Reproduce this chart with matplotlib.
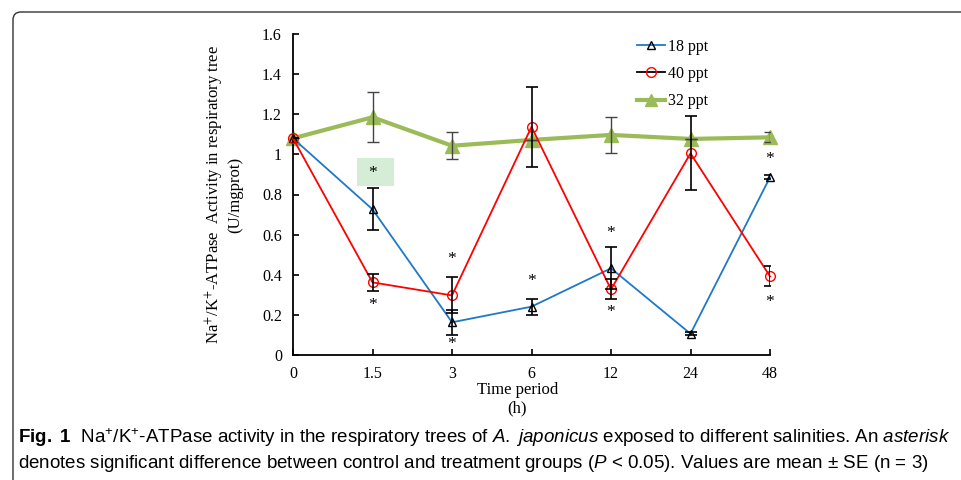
import matplotlib
matplotlib.use('Agg')
import matplotlib.pyplot as plt
from matplotlib.patches import FancyBboxPatch, Rectangle
from matplotlib.lines import Line2D
import numpy as np

plt.rcParams['font.family'] = ['Liberation Serif', 'DejaVu Serif']
plt.rcParams['mathtext.fontset'] = 'custom'
plt.rcParams['mathtext.rm'] = 'Liberation Sans'
plt.rcParams['mathtext.it'] = 'Liberation Sans:italic'
plt.rcParams['mathtext.bf'] = 'Liberation Sans:bold'

# time points (categorical axis)
times = ['0', '1.5', '3', '6', '12', '24', '48']

# 18 ppt
low_mean = [1.08, 0.726, 0.163, 0.241, 0.432, 0.106, 0.886]
low_se = [0.0, 0.105, 0.063, 0.04, 0.105, 0.008, 0.01]
# 40 ppt
high_mean = [1.08, 0.362, 0.297, 1.137, 0.327, 1.005, 0.392]
high_se = [0.0, 0.042, 0.09, 0.2, 0.05, 0.185, 0.05]
# 32 ppt (control)
ctrl_mean = [1.08, 1.185, 1.043, 1.072, 1.097, 1.077, 1.085]
ctrl_se = [0.0, 0.125, 0.068, 0.0, 0.088, 0.0, 0.025]

# significance asterisks (time index, height)
star_x = [1, 1, 2, 2, 3, 4, 4, 6, 6]
star_y = [0.905, 0.25, 0.48, 0.055, 0.368, 0.61, 0.213, 0.975, 0.265]

yticks = [0, 0.2, 0.4, 0.6, 0.8, 1, 1.2, 1.4, 1.6]
yticklabels = ['0', '0.2', '0.4', '0.6', '0.8', '1', '1.2', '1.4', '1.6']

x = np.arange(len(times))

fig = plt.figure(figsize=(9.61, 4.8), dpi=100)

# rounded frame around figure
frame = FancyBboxPatch((0.13, -1.0), 11.0, 4.8 - 0.12 + 1.0,
                       boxstyle='round,pad=0,rounding_size=0.08',
                       transform=fig.dpi_scale_trans, fill=False,
                       edgecolor='#333333', linewidth=1.0)
fig.patches.append(frame)

ax = fig.add_axes([293 / 961, 125 / 480, 477 / 961, 321 / 480])
ax.set_xlim(0, 6)
ax.set_ylim(0, 1.6)

# highlight box behind first asterisk
ax.add_patch(Rectangle((0.81, 0.842), 0.46, 0.14, facecolor='#d4edd4',
                       edgecolor='none', zorder=1))

ax.plot(x, ctrl_mean, color='#9bbb59', linewidth=3.0, marker='^',
        markersize=10, markerfacecolor='#9bbb59', markeredgecolor='#9bbb59',
        zorder=2, clip_on=False)
ax.errorbar(x, ctrl_mean, yerr=ctrl_se, fmt='none', ecolor='#444444',
            elinewidth=1.0, capsize=4.5, capthick=1.0, zorder=3)

ax.plot(x, low_mean, color='#1f78c8', linewidth=1.3, marker='^',
        markersize=6, markerfacecolor='none', markeredgecolor='black',
        markeredgewidth=1.0, zorder=4, clip_on=False)
ax.errorbar(x, low_mean, yerr=low_se, fmt='none', ecolor='black',
            elinewidth=1.2, capsize=4.5, capthick=1.2, zorder=5)

ax.plot(x, high_mean, color='#ff0000', linewidth=1.3, marker='o',
        markersize=7, markerfacecolor='none', markeredgecolor='#ff0000',
        markeredgewidth=1.0, zorder=4, clip_on=False)
ax.errorbar(x, high_mean, yerr=high_se, fmt='none', ecolor='black',
            elinewidth=1.2, capsize=4.5, capthick=1.2, zorder=5)

for sx, sy in zip(star_x, star_y):
    ax.text(sx, sy, '*', ha='center', va='center', fontsize=12.5, zorder=6)

ax.spines['top'].set_visible(False)
ax.spines['right'].set_visible(False)
ax.spines['left'].set_linewidth(1.3)
ax.spines['bottom'].set_linewidth(1.3)

ax.set_xticks(x)
ax.set_xticklabels(times)
ax.set_yticks(yticks)
ax.set_yticklabels(yticklabels)
ax.tick_params(axis='x', direction='in', length=4, width=1.2, labelsize=11.5, pad=8)
ax.tick_params(axis='y', direction='in', length=4, width=1.2, labelsize=11.5, pad=8)

ax.set_xlabel('Time period\n(h)', fontsize=12, linespacing=1.15)
ax.xaxis.set_label_coords(0.47, -0.085)
ax.xaxis.label.set_va('top')
ax.set_ylabel('Na$^{+}$/K$^{+}$-ATPase  Activity in respiratory tree\n(U/mgprot)',
              fontsize=12, linespacing=1.1, math_fontfamily='stix')
ax.yaxis.set_label_coords(-0.105, 0.5)

handles = [
    Line2D([], [], color='#1f78c8', linewidth=1.3, marker='^', markersize=6,
           markerfacecolor='none', markeredgecolor='black'),
    Line2D([], [], color='black', linewidth=1.3, marker='o', markersize=7,
           markerfacecolor='none', markeredgecolor='#ff0000'),
    Line2D([], [], color='#9bbb59', linewidth=3.0, marker='^', markersize=9,
           markerfacecolor='#9bbb59', markeredgecolor='#9bbb59'),
]
ax.legend(handles, ['18 ppt', '40 ppt', '32 ppt'], loc='upper left',
          bbox_to_anchor=(0.69, 1.03), frameon=False, fontsize=11.5,
          handlelength=1.8, handletextpad=0.15, labelspacing=0.7)

# caption
cap1 = (r'$\mathbf{Fig.\ 1}$  Na$^{+}$/K$^{+}$-ATPase activity in the respiratory trees of '
        r'$\mathit{A.\ japonicus}$ exposed to different salinities. An $\mathit{asterisk}$')
cap2 = (r'denotes significant difference between control and treatment groups '
        r'($\mathit{P}$ < 0.05). Values are mean $\pm$ SE (n = 3)')
fig.text(18 / 961, 1 - 438 / 480, cap1, family=['Liberation Sans', 'DejaVu Sans'],
         fontsize=13.5, va='center', ha='left')
fig.text(18 / 961, 1 - 463 / 480, cap2, family=['Liberation Sans', 'DejaVu Sans'],
         fontsize=13.5, va='center', ha='left')

fig.savefig('out.png', dpi=100)
